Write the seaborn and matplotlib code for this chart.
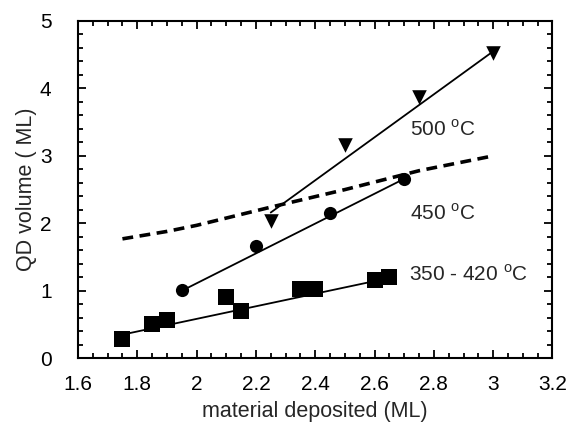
import matplotlib
matplotlib.use("Agg")
import matplotlib.pyplot as plt
from matplotlib.ticker import MultipleLocator, FuncFormatter
import seaborn as sns

# --- data ---
sq_x = [1.75, 1.85, 1.90, 2.10, 2.15, 2.35, 2.40, 2.60, 2.65]
sq_y = [0.29, 0.51, 0.56, 0.91, 0.70, 1.02, 1.02, 1.16, 1.20]
sq_fit_x = [1.75, 2.65]
sq_fit_y = [0.35, 1.19]

ci_x = [1.95, 2.20, 2.45, 2.70]
ci_y = [1.01, 1.66, 2.15, 2.65]
ci_fit_x = [1.95, 2.70]
ci_fit_y = [1.00, 2.66]

tr_x = [2.25, 2.50, 2.75, 3.00]
tr_y = [2.03, 3.16, 3.87, 4.52]
tr_fit_x = [2.25, 3.00]
tr_fit_y = [2.16, 4.55]

dash_x = [1.75, 1.90, 2.00, 2.25, 2.50, 2.75, 3.00]
dash_y = [1.77, 1.88, 1.97, 2.24, 2.50, 2.78, 3.00]

labels = ["500 $^{\\rm o}$C", "450 $^{\\rm o}$C", "350 - 420 $^{\\rm o}$C"]
label_x = [2.72, 2.72, 2.715]
label_y = [3.39, 2.15, 1.24]

sns.set_style("ticks")
plt.rcParams['font.family'] = ['Liberation Sans', 'DejaVu Sans']
plt.rcParams['mathtext.fontset'] = 'custom'
plt.rcParams['mathtext.rm'] = 'Liberation Sans'

fig = plt.figure(figsize=(5.69, 4.28), dpi=100)
ax = fig.add_axes([0.137, 0.163, 0.834, 0.788])

k = dict(ax=ax, color="black", legend=False)
sns.lineplot(x=dash_x, y=dash_y, linewidth=2.6, linestyle=(0, (3.0, 1.8)), **k)
sns.lineplot(x=sq_fit_x, y=sq_fit_y, linewidth=1.3, **k)
sns.lineplot(x=ci_fit_x, y=ci_fit_y, linewidth=1.3, **k)
sns.lineplot(x=tr_fit_x, y=tr_fit_y, linewidth=1.3, **k)
sns.scatterplot(x=sq_x, y=sq_y, marker="s", s=120, edgecolor="black", linewidth=0, zorder=3, **k)
sns.scatterplot(x=ci_x, y=ci_y, marker="o", s=90, edgecolor="black", linewidth=0, zorder=3, **k)
sns.scatterplot(x=tr_x, y=tr_y, marker="v", s=110, edgecolor="black", linewidth=0, zorder=3, **k)

for t, lx, ly in zip(labels, label_x, label_y):
    ax.text(lx, ly, t, fontsize=15, ha="left", va="center")

ax.set_xlim(1.6, 3.2)
ax.set_ylim(0, 5)
ax.xaxis.set_major_locator(MultipleLocator(0.2))
ax.xaxis.set_minor_locator(MultipleLocator(0.05))
ax.yaxis.set_major_locator(MultipleLocator(1))
ax.yaxis.set_minor_locator(MultipleLocator(0.2))
ax.xaxis.set_major_formatter(FuncFormatter(lambda v, p: f"{v:g}"))
ax.tick_params(which="both", direction="in", top=True, right=True, width=1.3, colors="black")
ax.tick_params(which="major", length=6, labelsize=15)
ax.tick_params(which="minor", length=3.5)
ax.tick_params(axis="x", which="major", pad=12)
ax.tick_params(axis="y", which="major", pad=19)
for s in ax.spines.values():
    s.set_linewidth(1.5)
    s.set_color("black")

ax.set_xlabel("material deposited (ML)", fontsize=15.5, va="center")
ax.set_ylabel("QD volume ( ML)", fontsize=15.5, va="center")
ax.xaxis.set_label_coords(0.5, -0.157)
ax.yaxis.set_label_coords(-0.108, 0.5)

fig.savefig("out.png", dpi=100)
